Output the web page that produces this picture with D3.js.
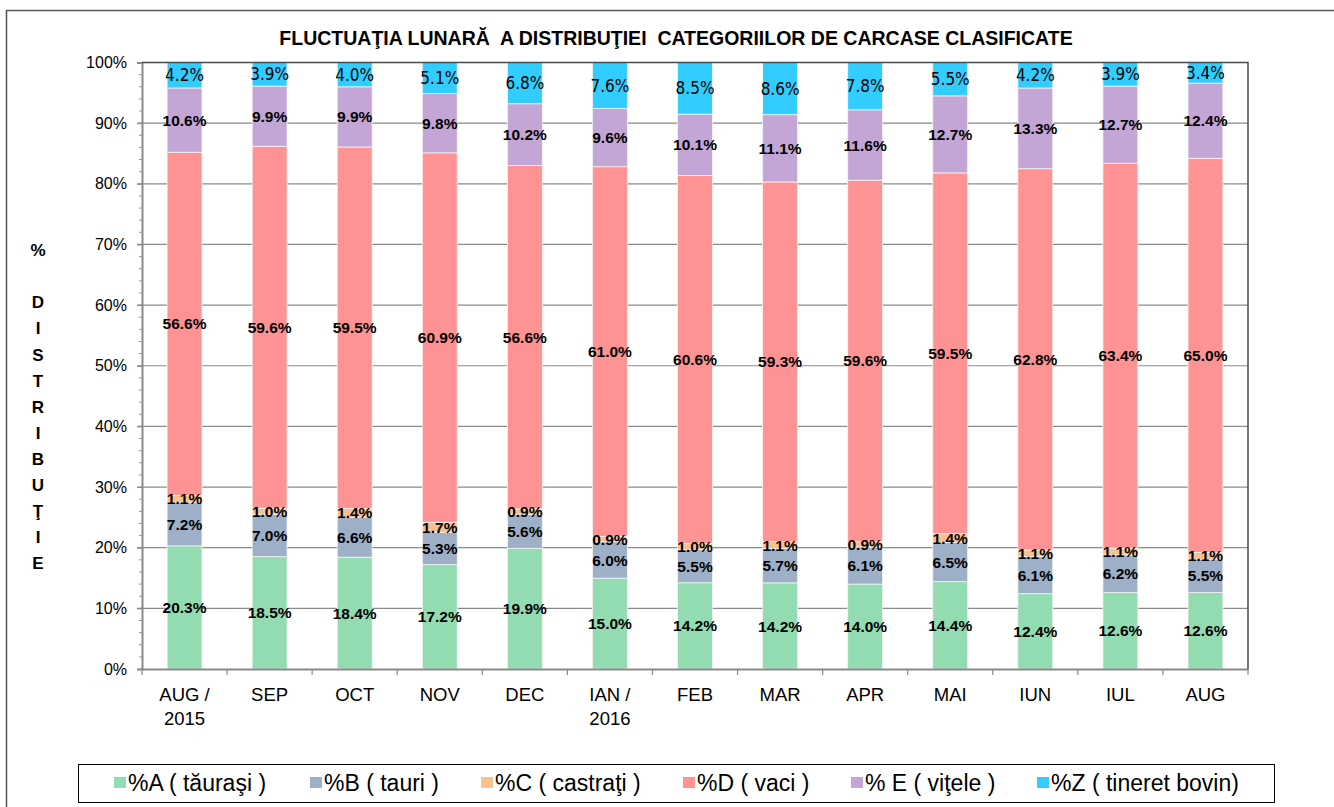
<!DOCTYPE html>
<html>
<head>
<meta charset="utf-8">
<script src="https://cdn.jsdelivr.net/npm/d3@7"></script>
<style>
  body { margin: 0; background: #fff; }
  text { font-family: "Liberation Sans", Arial, sans-serif; }
</style>
</head>
<body>
<div id="chart"></div>
<script>
// months on the x axis
var months = ["AUG / 2015", "SEP", "OCT", "NOV", "DEC", "IAN / 2016", "FEB", "MAR", "APR", "MAI", "IUN", "IUL", "AUG"];

// series values (%)
var catA = [20.3, 18.5, 18.4, 17.2, 19.9, 15.0, 14.2, 14.2, 14.0, 14.4, 12.4, 12.6, 12.6];
var catB = [7.2, 7.0, 6.6, 5.3, 5.6, 6.0, 5.5, 5.7, 6.1, 6.5, 6.1, 6.2, 5.5];
var catC = [1.1, 1.0, 1.4, 1.7, 0.9, 0.9, 1.0, 1.1, 0.9, 1.4, 1.1, 1.1, 1.1];
var catD = [56.6, 59.6, 59.5, 60.9, 56.6, 61.0, 60.6, 59.3, 59.6, 59.5, 62.8, 63.4, 65.0];
var catE = [10.6, 9.9, 9.9, 9.8, 10.2, 9.6, 10.1, 11.1, 11.6, 12.7, 13.3, 12.7, 12.4];
var catZ = [4.2, 3.9, 4.0, 5.1, 6.8, 7.6, 8.5, 8.6, 7.8, 5.5, 4.2, 3.9, 3.4];

var seriesKeys = ["A", "B", "C", "D", "E", "Z"];
var seriesNames = ["%A ( tăuraşi )", "%B ( tauri )", "%C ( castraţi )", "%D ( vaci )", "% E ( viţele )", "%Z ( tineret bovin)"];
var yTicks = [0, 0.1, 0.2, 0.3, 0.4, 0.5, 0.6, 0.7, 0.8, 0.9, 1.0];
var yTitle = ["%", "", "D", "I", "S", "T", "R", "I", "B", "U", "Ţ", "I", "E"];

var colors = {A: "#93dcb1", B: "#9db0c8", C: "#fac08f", D: "#ff9292", E: "#c3a6d6", Z: "#33ccff"};

var W = 1334, H = 807;
var margin = {top: 62.5, right: 86, bottom: 138, left: 142};
var width = W - margin.left - margin.right;
var height = H - margin.top - margin.bottom;

var table = months.map(function(m, i) {
  return {month: m, A: catA[i], B: catB[i], C: catC[i], D: catD[i], E: catE[i], Z: catZ[i]};
});

var stack = d3.stack().keys(seriesKeys).offset(d3.stackOffsetExpand);
var layers = stack(table);

var svg = d3.select("#chart").append("svg")
    .attr("width", W)
    .attr("height", H);

// outer chart border
svg.append("rect")
    .attr("x", 6.5).attr("y", 10.5)
    .attr("width", W + 10).attr("height", H + 10)
    .attr("fill", "none")
    .attr("stroke", "#555")
    .attr("stroke-width", 1.5);

var g = svg.append("g")
    .attr("transform", "translate(" + margin.left + "," + margin.top + ")");

var x = d3.scaleBand()
    .domain(months)
    .range([0, width])
    .paddingInner(0.59)
    .paddingOuter(0.295);

var y = d3.scaleLinear()
    .domain([0, 1])
    .range([height, 0]);

// gridlines
g.append("g")
    .selectAll("line")
    .data(yTicks.slice(1, -1))
    .enter().append("line")
    .attr("x1", -5).attr("x2", width)
    .attr("y1", function(d) { return y(d); })
    .attr("y2", function(d) { return y(d); })
    .attr("stroke", "#8a8a8a")
    .attr("stroke-width", 1.2);

// minor y ticks
g.append("g")
    .selectAll("line")
    .data(d3.range(0, 51).map(function(i) { return i / 50; }))
    .enter().append("line")
    .attr("x1", -3).attr("x2", 0)
    .attr("y1", function(d) { return y(d); })
    .attr("y2", function(d) { return y(d); })
    .attr("stroke", "#999")
    .attr("stroke-width", 1);

// bars
var layer = g.selectAll(".layer")
    .data(layers)
    .enter().append("g")
    .attr("class", "layer")
    .attr("fill", function(d) { return colors[d.key]; });

layer.selectAll("rect")
    .data(function(d) { return d; })
    .enter().append("rect")
    .attr("x", function(d) { return x(d.data.month); })
    .attr("y", function(d) { return y(d[1]); })
    .attr("width", x.bandwidth())
    .attr("height", function(d) { return y(d[0]) - y(d[1]); })
    .attr("stroke", "#f4f4f4")
    .attr("stroke-width", 0.8);

// data labels
layers.forEach(function(l) {
  var isZ = l.key === "Z";
  g.append("g").selectAll("text")
    .data(l)
    .enter().append("text")
    .attr("x", function(d) { return x(d.data.month) + x.bandwidth() / 2; })
    .attr("y", function(d) { return y((d[0] + d[1]) / 2); })
    .attr("dy", "0.36em")
    .attr("text-anchor", "middle")
    .style("font-family", isZ ? "'DejaVu Sans Condensed', 'DejaVu Sans', sans-serif" : null)
    .style("font-size", isZ ? "17px" : "15.5px")
    .style("font-weight", isZ ? "normal" : "bold")
    .attr("fill", "#000")
    .text(function(d) { return d.data[l.key].toFixed(1) + "%"; });
});

// y axis
var yAxis = g.append("g")
    .call(d3.axisLeft(y).tickValues(yTicks).tickFormat(d3.format(".0%")).tickSize(5).tickPadding(10));
yAxis.select(".domain").attr("stroke", "#8a8a8a").attr("stroke-width", 2);
yAxis.selectAll(".tick line").attr("stroke", "#8a8a8a");
yAxis.selectAll(".tick text")
    .style("font-size", "16px")
    .attr("fill", "#000")
    .style("font-family", "'Liberation Sans', Arial, sans-serif");

// x axis
var xAxis = g.append("g")
    .attr("transform", "translate(0," + height + ")")
    .call(d3.axisBottom(x).tickSize(0).tickFormat(""));
xAxis.select(".domain").attr("stroke", "#8a8a8a").attr("stroke-width", 2);

var step = x.step();
g.append("g").selectAll("line")
    .data(d3.range(0, months.length + 1))
    .enter().append("line")
    .attr("x1", function(i) { return i * step; })
    .attr("x2", function(i) { return i * step; })
    .attr("y1", height).attr("y2", height + 6)
    .attr("stroke", "#8a8a8a")
    .attr("stroke-width", 1.2);

var xLabels = g.append("g").selectAll("text")
    .data(months)
    .enter().append("text")
    .attr("text-anchor", "middle")
    .attr("x", function(d) { return x(d) + x.bandwidth() / 2; })
    .attr("y", height + 32)
    .style("font-size", "18.5px")
    .attr("fill", "#000");
xLabels.each(function(d) {
  var parts = d.split(" / ");
  var t = d3.select(this);
  if (parts.length > 1) {
    t.append("tspan").attr("x", t.attr("x")).text(parts[0] + " /");
    t.append("tspan").attr("x", t.attr("x")).attr("dy", 24).text(parts[1]);
  } else {
    t.text(d);
  }
});

// plot border top & right
g.append("path")
    .attr("d", "M0,0H" + width + "V" + height)
    .attr("fill", "none")
    .attr("stroke", "#4a4a4a")
    .attr("stroke-width", 1.5);

// title
svg.append("text")
    .attr("x", 676)
    .attr("y", 45)
    .attr("text-anchor", "middle")
    .style("font-size", "19.5px")
    .style("font-weight", "bold")
    .style("white-space", "pre")
    .attr("fill", "#000")
    .text("FLUCTUAŢIA LUNARĂ  A DISTRIBUŢIEI  CATEGORIILOR DE CARCASE CLASIFICATE");

// vertical y title
svg.append("g").selectAll("text")
    .data(yTitle)
    .enter().append("text")
    .attr("x", 38)
    .attr("y", function(d, i) { return 250 + i * 26.1; })
    .attr("dy", "0.36em")
    .attr("text-anchor", "middle")
    .style("font-size", "17px")
    .style("font-weight", "bold")
    .attr("fill", "#000")
    .text(function(d) { return d; });

// legend
var legend = svg.append("g");
legend.append("rect")
    .attr("x", 78.5).attr("y", 764.5)
    .attr("width", 1196).attr("height", 38)
    .attr("fill", "#fff")
    .attr("stroke", "#000")
    .attr("stroke-width", 1);

var legendX = [114, 310, 481, 683, 851, 1037];
var items = legend.selectAll(".item")
    .data(seriesKeys)
    .enter().append("g")
    .attr("class", "item")
    .attr("transform", function(d, i) { return "translate(" + legendX[i] + ",777)"; });
items.append("rect")
    .attr("width", 12).attr("height", 11)
    .attr("fill", function(d) { return colors[d]; });
items.append("text")
    .attr("x", 14)
    .attr("y", 6)
    .attr("dy", "0.36em")
    .style("font-size", "23px")
    .style("white-space", "pre")
    .attr("fill", "#000")
    .text(function(d, i) { return seriesNames[i]; });
</script>
</body>
</html>
